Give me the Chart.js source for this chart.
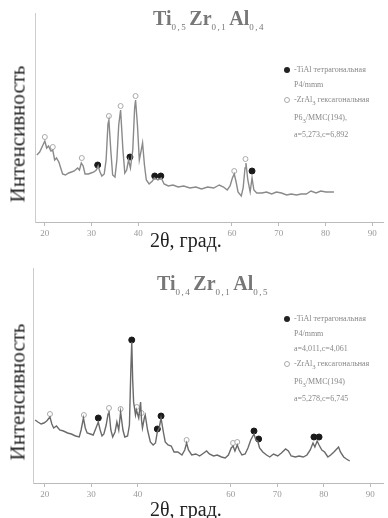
<!DOCTYPE html>
<html lang="ru">
<head>
    <meta charset="UTF-8">
    <title>Рентгенограммы Ti-Zr-Al</title>
    <script src="https://cdn.jsdelivr.net/npm/chart.js"></script>
    <style>
        body { margin: 0; background: #fff; font-family: "Liberation Serif", serif; }
        .panel { position: relative; width: 388px; height: 259px; overflow: hidden; }
        .panel canvas { position: absolute; left: 0; top: 0; }
        .title { position: absolute; font-size: 20px; color: #777; font-weight: bold; white-space: nowrap; }
        .title sub { font-size: 9px; font-weight: normal; letter-spacing: 1.5px; padding-right: 2px; }
        .ylab { position: absolute; font-size: 21px; color: #222; white-space: nowrap;
                transform: translate(-50%, -50%) rotate(-90deg); }
        .xlab { position: absolute; font-size: 20px; color: #222; white-space: nowrap; }
        .legend { position: absolute; font-size: 8px; line-height: 15px; color: #888; white-space: nowrap; }
        .legend .mk { display: inline-block; width: 6px; height: 6px; border-radius: 50%; margin-right: 4px; vertical-align: middle; }
        .legend .ind { padding-left: 10px; }
    </style>
</head>
<body>
    <div class="panel" id="p1">
        <canvas id="c1" width="388" height="259"></canvas>
        <div class="title" style="left:153px; top:7px;">Ti<sub>0,5</sub>Zr<sub>0,1</sub>Al<sub>0,4</sub></div>
        <div class="ylab" style="left:18px; top:134px;">Интенсивность</div>
        <div class="xlab" style="left:150px; top:229px;">2θ, град.</div>
        <div class="legend" style="left:284px; top:62px;">
            <div><span class="mk" style="background:#222"></span>-TiAl тетрагональная</div>
            <div class="ind">P4/mmm</div>
            <div><span class="mk" style="border:1px solid #aaa; width:4px; height:4px"></span>-ZrAl<sub>3</sub> гексагональная</div>
            <div class="ind">P6<sub>3</sub>/MMC(194),</div>
            <div class="ind">a=5,273,c=6,892</div>
        </div>
    </div>
    <div class="panel" id="p2">
        <canvas id="c2" width="388" height="259"></canvas>
        <div class="title" style="left:157px; top:13px;">Ti<sub>0,4</sub>Zr<sub>0,1</sub>Al<sub>0,5</sub></div>
        <div class="ylab" style="left:18px; top:133px;">Интенсивность</div>
        <div class="xlab" style="left:150px; top:239px;">2θ, град.</div>
        <div class="legend" style="left:284px; top:52px; line-height:15px;">
            <div><span class="mk" style="background:#222"></span>-TiAl тетрагональная</div>
            <div class="ind">P4/mmm</div>
            <div class="ind">a=4,011,c=4,061</div>
            <div><span class="mk" style="border:1px solid #aaa; width:4px; height:4px"></span>-ZrAl<sub>3</sub> гексагональная</div>
            <div class="ind">P6<sub>3</sub>/MMC(194)</div>
            <div class="ind">a=5,278,c=6,745</div>
        </div>
    </div>
    <script>
        // подписи оси X (50 закрыта подписью оси)
        const xTickLabels = [20, 30, 40, 60, 70, 80, 90];

        // Ti0.5Zr0.1Al0.4
        const angle1 = [18.3, 18.9, 19.6, 20.0, 20.4, 20.8, 21.3, 21.7, 22.1, 22.5, 23.0, 23.4, 23.8, 24.4, 25.1, 25.7,
            26.3, 27.0, 27.4, 27.8, 28.2, 28.6, 29.3, 29.9, 30.5, 31.0, 31.4, 31.8, 32.2, 32.7, 33.1, 33.5, 33.7, 34.1,
            34.5, 35.0, 35.4, 35.8, 36.2, 36.7, 37.1, 37.5, 37.9, 38.3, 38.8, 39.2, 39.4, 39.8, 40.2, 40.7, 40.9, 41.3,
            41.7, 42.3, 43.0, 43.4, 44.2, 44.9, 45.5, 46.4, 47.4, 48.5, 49.7, 51.0, 52.3, 53.5, 54.8, 56.1, 57.3, 58.2,
            59.0, 59.6, 60.1, 60.5, 60.9, 61.3, 62.0, 62.4, 62.8, 63.0, 63.4, 63.9, 64.3, 64.7, 65.3, 66.4, 67.4, 68.5,
            69.5, 70.6, 71.7, 72.7, 73.8, 74.8, 75.9, 76.9, 78.0, 79.0, 80.1, 81.1, 81.8];
        const intensity1 = [67, 70, 77, 81, 74, 76, 71, 72, 62, 64, 60, 54, 48, 47, 49, 50,
            51, 54, 52, 59, 56, 48, 48, 49, 50, 52, 56, 50, 46, 48, 62, 98, 102, 72,
            47, 45, 62, 97, 112, 72, 49, 52, 62, 54, 72, 114, 122, 97, 62, 74, 79, 57,
            42, 38, 41, 44, 42, 44, 38, 36, 37, 35, 36, 34, 35, 33, 35, 34, 37, 35,
            32, 36, 44, 48, 40, 30, 26, 34, 54, 59, 42, 30, 44, 32, 29, 29, 30, 28,
            30, 29, 27, 28, 27, 28, 28, 31, 29, 31, 30, 30, 30];
        const tiAlAngle1 = [31.3, 38.2, 43.5, 44.8, 64.3];
        const tiAlInt1 = [57, 65, 46, 46, 51];
        const zrAlAngle1 = [20.0, 21.7, 27.9, 33.7, 36.2, 39.4, 60.5, 62.9];
        const zrAlInt1 = [85, 75, 64, 106, 116, 126, 51, 63];

        // Ti0.4Zr0.1Al0.5
        const angle2 = [17.9, 18.5, 19.2, 19.8, 20.4, 21.1, 21.5, 21.9, 22.5, 23.2, 24.0, 24.9, 25.7, 26.6, 27.4, 27.8,
            28.3, 28.7, 29.1, 29.8, 30.4, 31.0, 31.5, 31.9, 32.3, 32.7, 33.2, 33.6, 33.8, 34.2, 34.6, 35.1, 35.5, 35.9,
            36.3, 36.8, 37.2, 37.8, 38.2, 38.5, 38.7, 38.9, 39.1, 39.5, 39.7, 40.2, 40.6, 40.8, 41.0, 41.4, 41.6, 42.1,
            42.7, 43.3, 43.8, 44.2, 44.6, 45.0, 45.5, 45.9, 46.5, 47.2, 47.8, 48.6, 49.5, 50.1, 50.5, 50.9, 51.6, 52.5,
            53.3, 54.2, 54.8, 55.4, 56.3, 57.1, 58.0, 58.8, 59.5, 60.1, 60.5, 60.9, 61.4, 61.8, 62.4, 63.1, 63.7, 64.3,
            65.0, 65.4, 65.8, 66.2, 66.9, 67.7, 68.4, 69.2, 70.1, 70.9, 71.8, 72.4, 73.0, 73.9, 74.7, 75.6, 76.4, 77.1,
            77.7, 78.1, 78.6, 79.0, 79.6, 80.2, 80.9, 81.5, 82.2, 82.8, 83.2, 83.6, 84.3, 84.9, 85.6];
        const intensity2 = [63, 61, 59, 60, 62, 66, 59, 55, 57, 53, 52, 50, 49, 47, 46, 53,
            65, 55, 50, 49, 48, 55, 61, 53, 47, 49, 58, 69, 72, 53, 46, 51, 61, 53,
            71, 53, 46, 47, 58, 113, 141, 103, 81, 68, 73, 65, 81, 63, 55, 65, 68, 53,
            41, 38, 40, 51, 55, 65, 51, 41, 38, 37, 31, 31, 28, 33, 40, 33, 28, 29,
            27, 30, 32, 29, 27, 28, 26, 25, 28, 35, 37, 32, 38, 33, 28, 29, 35, 43,
            49, 43, 42, 35, 31, 28, 26, 29, 27, 30, 34, 32, 27, 26, 27, 26, 28, 33,
            40, 36, 42, 38, 33, 31, 26, 28, 31, 34, 36, 31, 26, 24, 22];
        const tiAlAngle2 = [31.5, 38.7, 44.2, 45.0, 65.0, 66.0, 77.9, 79.0];
        const tiAlInt2 = [65, 143, 54, 67, 52, 44, 46, 46];
        const zrAlAngle2 = [21.1, 28.4, 33.8, 36.3, 39.8, 40.8, 50.5, 60.5, 61.4];
        const zrAlInt2 = [69, 68, 75, 74, 76, 70, 43, 40, 41];

        function pts(xs, ys) {
            return xs.map((x, i) => ({ x: x, y: ys[i] }));
        }

        function makeChart(id, cfg) {
            new Chart(document.getElementById(id), {
                type: 'line',
                data: {
                    datasets: [
                        {
                            data: pts(cfg.angle, cfg.intensity),
                            borderColor: cfg.lineColor,
                            borderWidth: 1.4,
                            pointRadius: 0,
                            tension: 0
                        },
                        {
                            data: pts(cfg.tiX, cfg.tiY),
                            showLine: false,
                            pointStyle: 'circle',
                            pointRadius: 3,
                            backgroundColor: '#1a1a1a',
                            borderColor: '#1a1a1a'
                        },
                        {
                            data: pts(cfg.zrX, cfg.zrY),
                            showLine: false,
                            pointStyle: 'circle',
                            pointRadius: 2.5,
                            borderWidth: 1,
                            backgroundColor: '#fff',
                            borderColor: '#aaa'
                        }
                    ]
                },
                options: {
                    responsive: false,
                    animation: false,
                    devicePixelRatio: 1,
                    layout: { padding: { top: cfg.top, right: 0, left: 0, bottom: 0 } },
                    plugins: { legend: { display: false }, tooltip: { enabled: false } },
                    scales: {
                        x: {
                            type: 'linear',
                            min: cfg.xmin,
                            max: cfg.xmax,
                            afterFit: s => { s.height = cfg.xh; },
                            afterBuildTicks: s => { s.ticks = xTickLabels.map(v => ({ value: v })); },
                            grid: { drawOnChartArea: false, drawTicks: true, tickLength: 4, color: '#bbb' },
                            border: { display: true, color: '#bbb' },
                            ticks: {
                                color: '#999',
                                padding: 2,
                                maxRotation: 0,
                                font: { family: 'Liberation Serif', size: 9 }
                            }
                        },
                        y: {
                            min: 0,
                            max: cfg.ymax,
                            afterFit: s => { s.width = cfg.yw; },
                            grid: { drawOnChartArea: false, drawTicks: false },
                            border: { display: true, color: '#ccc' },
                            ticks: { display: false }
                        }
                    }
                }
            });
        }

        makeChart('c1', {
            angle: angle1, intensity: intensity1,
            tiX: tiAlAngle1, tiY: tiAlInt1, zrX: zrAlAngle1, zrY: zrAlInt1,
            lineColor: '#8a8a8a', top: 13, xh: 37, yw: 35, ymax: 209, xmin: 17.9, xmax: 92.3
        });
        makeChart('c2', {
            angle: angle2, intensity: intensity2,
            tiX: tiAlAngle2, tiY: tiAlInt2, zrX: zrAlAngle2, zrY: zrAlInt2,
            lineColor: '#6a6a6a', top: 9, xh: 35, yw: 33, ymax: 215, xmin: 17.45, xmax: 92.76
        });
    </script>
</body>
</html>
